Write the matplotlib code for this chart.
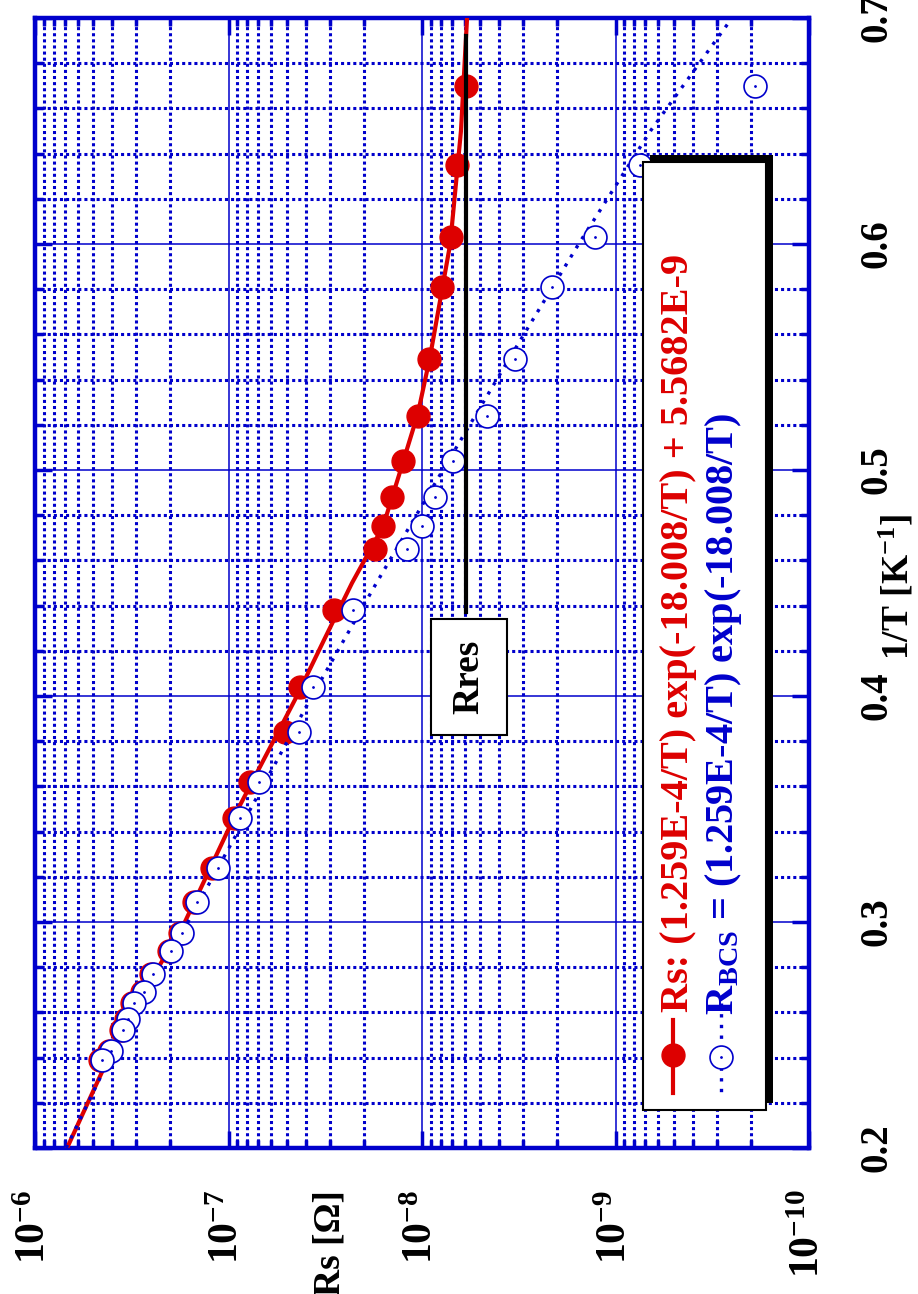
import numpy as np
import matplotlib.pyplot as plt
from matplotlib.patches import Rectangle
from matplotlib.lines import Line2D
from matplotlib.ticker import LogLocator, MultipleLocator, FixedLocator, FixedFormatter, NullFormatter

plt.rcParams['font.family'] = ['Liberation Serif', 'DejaVu Serif']
plt.rcParams['font.weight'] = 'bold'
plt.rcParams['mathtext.fontset'] = 'custom'
plt.rcParams['mathtext.rm'] = 'Liberation Serif:bold'
plt.rcParams['mathtext.it'] = 'Liberation Serif:bold'
plt.rcParams['mathtext.bf'] = 'Liberation Serif:bold'

# measured points (1/T in K^-1, surface resistance in Ohm)
inv_t = [0.670, 0.635, 0.603, 0.581, 0.549, 0.524, 0.504, 0.488, 0.475, 0.465,
         0.438, 0.404, 0.384, 0.362, 0.346, 0.324, 0.309, 0.295, 0.287, 0.277,
         0.269, 0.264, 0.257, 0.252, 0.243, 0.239]
rs_meas = [5.92e-9, 6.59e-9, 7.08e-9, 7.88e-9, 9.20e-9, 1.05e-8, 1.25e-8, 1.43e-8,
           1.59e-8, 1.75e-8, 2.85e-8, 4.27e-8, 5.10e-8, 7.74e-8, 9.37e-8, 1.22e-7,
           1.51e-7, 1.78e-7, 2.03e-7, 2.51e-7, 2.80e-7, 3.15e-7, 3.39e-7, 3.59e-7,
           4.15e-7, 4.61e-7]
r_bcs = [1.90e-10, 7.47e-10, 1.28e-9, 2.13e-9, 3.31e-9, 4.61e-9, 6.92e-9, 8.57e-9,
         1.00e-8, 1.20e-8, 2.27e-8, 3.66e-8, 4.32e-8, 6.96e-8, 8.72e-8, 1.13e-7,
         1.46e-7, 1.74e-7, 1.98e-7, 2.46e-7, 2.73e-7, 3.08e-7, 3.31e-7, 3.51e-7,
         4.05e-7, 4.50e-7]

# fit curves
fit_inv_t = [0.20, 0.25, 0.30, 0.35, 0.40, 0.425, 0.45, 0.475, 0.50, 0.525, 0.55, 0.60, 0.65, 0.70]
fit_rs = [6.83e-7, 3.68e-7, 1.68e-7, 8.93e-8, 4.43e-8, 3.20e-8, 2.30e-8, 1.59e-8,
          1.29e-8, 1.05e-8, 9.09e-9, 7.15e-9, 6.29e-9, 5.85e-9]
bcs_inv_t = [0.20, 0.25, 0.30, 0.35, 0.40, 0.45, 0.50, 0.55, 0.60, 0.65, 0.70]
bcs_fit = [6.9e-7, 3.6e-7, 1.62e-7, 7.7e-8, 3.7e-8, 1.72e-8, 7.8e-9, 3.5e-9,
           1.55e-9, 6.6e-10, 2.5e-10]

rres_val = 5.9e-9
rres_span = [0.437, 0.692]
rres_box = (5.7e-9, 0.4084)

rs_ticks = [1e-6, 1e-7, 1e-8, 1e-9, 1e-10]
rs_labels = [r'$10^{-6}$', r'$10^{-7}$', r'$10^{-8}$', r'$10^{-9}$', r'$10^{-10}$']

blue = '#0000cc'
red = '#dd0000'

fig = plt.figure(figsize=(9.18, 12.94), dpi=100)
W, H = 918.0, 1294.0
ax = fig.add_axes([35 / W, 1 - 1148 / H, (809 - 35) / W, (1148 - 18) / H])

ax.set_xscale('log')
ax.set_xlim(1e-6, 1e-10)
ax.set_ylim(0.2, 0.7)

ax.plot(fit_rs, fit_inv_t, color=red, lw=3, zorder=3)
ax.plot(rs_meas, inv_t, 'o', color=red, ms=16.5, zorder=4)
ax.plot(bcs_fit, bcs_inv_t, color=blue, lw=2.4, ls=(0, (1, 2.2)), zorder=5)
ax.plot(r_bcs, inv_t, 'o', mfc='white', mec=blue, mew=1.2, ms=16.5, zorder=6)
ax.plot(r_bcs, inv_t, '.', color=blue, ms=2, zorder=7)

# Rres marker
ax.plot([rres_val, rres_val], rres_span, color='black', lw=3, zorder=6)
ax.text(rres_box[0], rres_box[1], 'Rres', rotation=90, ha='center', va='center',
        fontsize=27, zorder=8,
        bbox=dict(boxstyle='square,pad=0.55', fc='white', ec='black', lw=1.5))

# axes styling
ax.xaxis.set_major_locator(FixedLocator(rs_ticks))
ax.xaxis.set_major_formatter(FixedFormatter(rs_labels))
ax.xaxis.set_minor_locator(LogLocator(base=10, subs=np.arange(2, 10), numticks=20))
ax.xaxis.set_minor_formatter(NullFormatter())
ax.yaxis.set_major_locator(MultipleLocator(0.1))
ax.yaxis.set_minor_locator(MultipleLocator(0.02))
ax.yaxis.set_major_formatter(lambda v, p: '%.1f' % v)

ax.grid(which='major', color=blue, lw=1.1, ls='-')
ax.grid(which='minor', color=blue, lw=2.2, ls=(0, (1, 1)))
ax.set_axisbelow(True)

ax.tick_params(which='both', direction='in', colors=blue, top=True, right=True,
               left=True, bottom=True, labelleft=False, labelright=True,
               labelcolor='black', labelsize=28)
ax.tick_params(axis='x', labelsize=30)
ax.tick_params(which='major', length=12, width=2.5)
ax.tick_params(which='minor', length=6, width=2.5)
ax.tick_params(axis='x', pad=30)
ax.tick_params(axis='y', pad=36)
for lab in ax.get_xticklabels():
    lab.set_rotation(90)
    lab.set_va('top')
for lab in ax.get_yticklabels():
    lab.set_rotation(90)
    lab.set_va('center')
for sp in ax.spines.values():
    sp.set_color(blue)
    sp.set_linewidth(3.2)

fig.text(330 / W, 1 - 1243 / H, 'Rs [Ω]', rotation=90, ha='center', va='center', fontsize=27)
fig.text(897 / W, 1 - 587 / H, '1/T [K$^{-1}$]', rotation=90, ha='center', va='center', fontsize=27)


def px(x, y):
    return x / W, 1 - y / H


# legend box with shadow
fig.patches.append(Rectangle(px(650, 1103), (766 - 643) / W, (1110 - 162) / H,
                             transform=fig.transFigure, fc='black', ec='none', zorder=20))
fig.patches.append(Rectangle(px(643, 1110), (766 - 643) / W, (1110 - 162) / H,
                             transform=fig.transFigure, fc='white', ec='black', lw=1.5, zorder=21))
fig.lines.append(Line2D([673 / W, 673 / W], [1 - 1020 / H, 1 - 1093 / H], transform=fig.transFigure,
                        color=red, lw=3, zorder=22))
fig.lines.append(Line2D([673 / W], [1 - 1055 / H], transform=fig.transFigure, marker='o',
                        color=red, ms=16.5, zorder=23))
fig.lines.append(Line2D([721 / W, 721 / W], [1 - 1003 / H, 1 - 1092 / H], transform=fig.transFigure,
                        color=blue, lw=2.4, ls=(0, (1, 2.2)), zorder=22))
fig.lines.append(Line2D([721 / W], [1 - 1057 / H], transform=fig.transFigure, marker='o',
                        mfc='white', mec=blue, mew=1.2, ms=16.5, zorder=23))
fig.lines.append(Line2D([721 / W], [1 - 1057 / H], transform=fig.transFigure, marker='.',
                        color=blue, ms=2, zorder=24))
fig.text(688 / W, 1 - 1012 / H, 'Rs: (1.259E-4/T) exp(-18.008/T) + 5.5682E-9', color=red,
         rotation=90, rotation_mode='anchor', ha='left', va='baseline', fontsize=29, zorder=25)
fig.text(733 / W, 1 - 1015 / H, r'$\mathregular{R_{BCS}}$ = (1.259E-4/T) exp(-18.008/T)', color=blue,
         rotation=90, rotation_mode='anchor', ha='left', va='baseline', fontsize=29, zorder=25)

fig.savefig('out.png', dpi=100)
